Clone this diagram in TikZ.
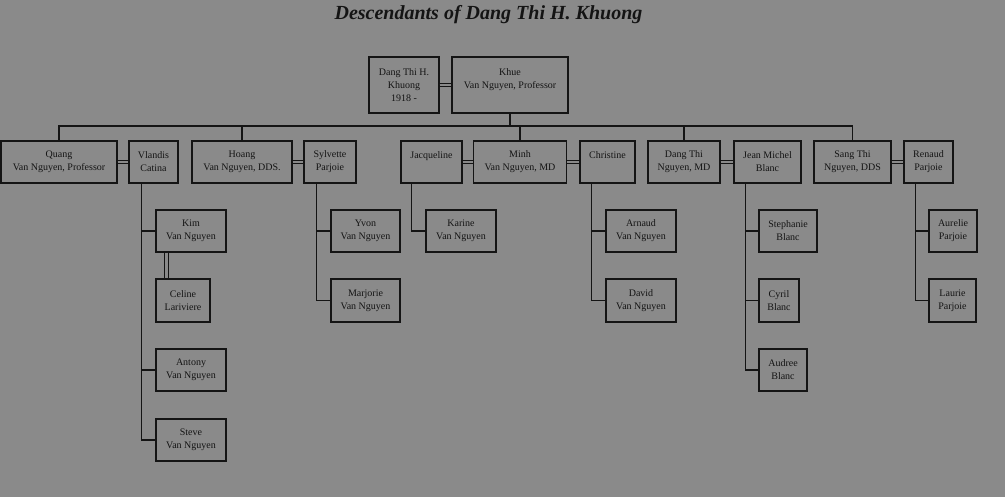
\documentclass[tikz,border=0pt]{standalone}
\usepackage{fontspec}
\setmainfont{Liberation Serif}
\definecolor{bg}{RGB}{138,138,138}
\definecolor{ink}{RGB}{20,20,20}
\begin{document}
\begin{tikzpicture}[x=1pt,y=-1pt,
  box/.style={draw=ink, line width=1.3pt, fill=bg, text=ink, inner sep=0pt, align=center,
    font=\fontsize{10}{13}\selectfont, minimum height=42pt},
  wire/.style={draw=ink, line width=1.2pt},
  dbl/.style={draw=ink, line width=1.1pt, double=bg, double distance=2.4pt}]
\fill[bg] (0,0) rectangle (1005,497);
\useasboundingbox (0,0) rectangle (1005,497);
% title
\node[text=ink, font=\fontsize{20}{24}\selectfont\bfseries\itshape] (title) at (488.5,14.5) {Descendants of Dang Thi H. Khuong};
% generation 0
\node[box, minimum width=70pt, minimum height=56pt] (dtk) at (404,85) {Dang Thi H.\\Khuong\\1918 -};
\node[box, minimum width=116pt, minimum height=56pt] (khue) at (510,85) {Khue\\Van Nguyen, Professor\\\mbox{}};
\draw[dbl] (dtk.east) -- (khue.west);
% generation 1
\node[box, minimum width=116pt] (quang) at (59,162) {Quang\\Van Nguyen, Professor};
\node[box, minimum width=49pt] (vlandis) at (153.5,162) {Vlandis\\Catina};
\node[box, minimum width=100pt] (hoang) at (242,162) {Hoang\\Van Nguyen, DDS.};
\node[box, minimum width=52pt] (sylvette) at (330,162) {Sylvette\\Parjoie};
\node[box, minimum width=61pt] (jacq) at (431.5,162) {Jacqueline\\\mbox{}};
\node[box, minimum width=93pt] (minh) at (520,162) {Minh\\Van Nguyen, MD};
\node[box, minimum width=55pt] (christine) at (607.5,162) {Christine\\\mbox{}};
\node[box, minimum width=72pt] (dangthi) at (684,162) {Dang Thi\\Nguyen, MD};
\node[box, minimum width=67pt] (jean) at (767.5,162) {Jean Michel\\Blanc};
\node[box, minimum width=77pt] (sang) at (852.5,162) {Sang Thi\\Nguyen, DDS};
\node[box, minimum width=49pt] (renaud) at (928.5,162) {Renaud\\Parjoie};
\draw[dbl] (quang.east) -- (vlandis.west);
\draw[dbl] (hoang.east) -- (sylvette.west);
\draw[dbl] (jacq.east) -- (minh.west);
\draw[dbl] (minh.east) -- (christine.west);
\draw[dbl] (dangthi.east) -- (jean.west);
\draw[dbl] (sang.east) -- (renaud.west);
% bar
\coordinate (bar) at (510,126);
\draw[wire] (khue.south) -- (bar);
\draw[wire] (quang.north) |- (bar);
\draw[wire] (sang.north) |- (bar);
\draw[wire] (hoang.north) -- (hoang.north |- bar);
\draw[wire] (minh.north) -- (minh.north |- bar);
\draw[wire] (dangthi.north) -- (dangthi.north |- bar);
% generation 2
\node[box, minimum width=70pt] (kim) at (191,231) {Kim\\Van Nguyen};
\node[box, minimum width=54pt, minimum height=43pt] (celine) at (183,300.5) {Celine\\Lariviere};
\node[box, minimum width=70pt] (antony) at (191,370) {Antony\\Van Nguyen};
\node[box, minimum width=70pt] (steve) at (191,440) {Steve\\Van Nguyen};
\node[box, minimum width=69pt] (yvon) at (365.5,231) {Yvon\\Van Nguyen};
\node[box, minimum width=69pt, minimum height=43pt] (marjorie) at (365.5,300.5) {Marjorie\\Van Nguyen};
\node[box, minimum width=70pt] (karine) at (461,231) {Karine\\Van Nguyen};
\node[box, minimum width=70pt] (arnaud) at (641,231) {Arnaud\\Van Nguyen};
\node[box, minimum width=70pt, minimum height=43pt] (david) at (641,300.5) {David\\Van Nguyen};
\node[box, minimum width=58pt] (stephanie) at (788,231) {Stephanie\\Blanc};
\node[box, minimum width=40pt, minimum height=43pt] (cyril) at (779,300.5) {Cyril\\Blanc};
\node[box, minimum width=48pt] (audree) at (783,370) {Audree\\Blanc};
\node[box, minimum width=48pt] (aurelie) at (953,231) {Aurelie\\Parjoie};
\node[box, minimum width=47pt, minimum height=43pt] (laurie) at (952.5,300.5) {Laurie\\Parjoie};
\draw[dbl] ([xshift=11pt]kim.south west) -- ([xshift=11pt]celine.north west);
% trunks
\coordinate (tv) at ([xshift=13pt]vlandis.south west);
\draw[wire] (tv) |- (steve.west);
\draw[wire] (kim.west) -- (kim.west -| tv);
\draw[wire] (antony.west) -- (antony.west -| tv);
\coordinate (ts) at ([xshift=13pt]sylvette.south west);
\draw[wire] (ts) |- (marjorie.west);
\draw[wire] (yvon.west) -- (yvon.west -| ts);
\coordinate (tj) at ([xshift=11pt]jacq.south west);
\draw[wire] (tj) |- (karine.west);
\coordinate (tc) at ([xshift=12pt]christine.south west);
\draw[wire] (tc) |- (david.west);
\draw[wire] (arnaud.west) -- (arnaud.west -| tc);
\coordinate (tm) at ([xshift=12pt]jean.south west);
\draw[wire] (tm) |- (audree.west);
\draw[wire] (stephanie.west) -- (stephanie.west -| tm);
\draw[wire] (cyril.west) -- (cyril.west -| tm);
\coordinate (tr) at ([xshift=12.5pt]renaud.south west);
\draw[wire] (tr) |- (laurie.west);
\draw[wire] (aurelie.west) -- (aurelie.west -| tr);
\end{tikzpicture}
\end{document}
